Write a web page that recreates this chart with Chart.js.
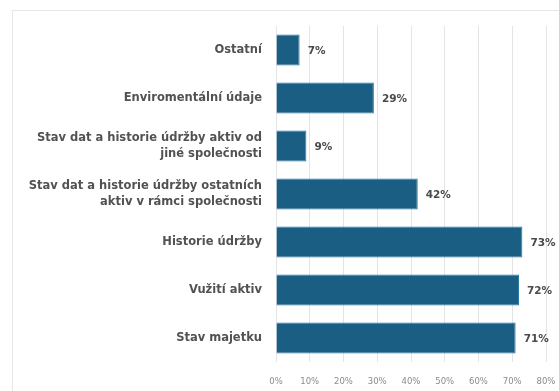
<!DOCTYPE html>
<html>
<head>
<meta charset="utf-8">
<script src="https://cdn.jsdelivr.net/npm/chart.js@4"></script>
<style>
    html, body { margin: 0; padding: 0; background: #fff; }
    #wrap { position: relative; width: 559px; height: 391px; }
    #frame {
        position: absolute; left: 12px; top: 10px; right: 0; bottom: 0;
        border-top: 1px solid #e6e6e6; border-left: 1px solid #e6e6e6;
    }
    canvas { position: absolute; left: 0; top: 0; }
</style>
</head>
<body>
<div id="wrap">
    <div id="frame"></div>
    <canvas id="assetDataChart" width="559" height="391"></canvas>
</div>
<script>
var categories = [
    'Ostatní',
    'Enviromentální údaje',
    ['Stav dat a historie údržby aktiv od', 'jiné společnosti'],
    ['Stav dat a historie údržby ostatních', 'aktiv v rámci společnosti'],
    'Historie údržby',
    'Vužití aktiv',
    'Stav majetku'
];
var shares = [7, 29, 9, 42, 73, 72, 71];
var axisTicks = [0, 10, 20, 30, 40, 50, 60, 70, 80];

var fontFamily = '"DejaVu Sans", Verdana, sans-serif';

// percentage written just past the end of every bar
var barValueLabels = {
    id: 'barValueLabels',
    afterDatasetsDraw: function(chart) {
        var ctx = chart.ctx;
        var meta = chart.getDatasetMeta(0);
        ctx.save();
        ctx.font = 'bold 10.5px ' + fontFamily;
        ctx.fillStyle = '#4a4a4a';
        ctx.textAlign = 'left';
        ctx.textBaseline = 'middle';
        meta.data.forEach(function(bar, i) {
            ctx.fillText(shares[i] + '%', bar.x + 8, bar.y + 1);
        });
        ctx.restore();
    }
};

var ctx = document.getElementById('assetDataChart').getContext('2d');
new Chart(ctx, {
    type: 'bar',
    data: {
        labels: categories,
        datasets: [{
            data: shares,
            backgroundColor: '#1b5e84',
            borderColor: '#2a7aa3',
            borderWidth: 1,
            categoryPercentage: 1,
            barPercentage: 0.65
        }]
    },
    options: {
        indexAxis: 'y',
        responsive: false,
        animation: false,
        layout: { padding: { left: 0, right: 13, top: 26, bottom: 0 } },
        plugins: {
            legend: { display: false },
            tooltip: { enabled: false }
        },
        scales: {
            x: {
                min: 0,
                max: 80,
                afterBuildTicks: function(scale) {
                    scale.ticks = axisTicks.map(function(v) { return { value: v }; });
                },
                afterFit: function(scale) {
                    scale.height = 29;
                    // let the end labels hang past the plot edge
                    scale.paddingLeft = 0;
                    scale.paddingRight = 0;
                },
                grid: { color: '#e4e4e4', drawTicks: false },
                border: { display: false },
                ticks: {
                    padding: 15,
                    color: '#8c8c8c',
                    font: { size: 8.5, family: fontFamily }
                },
                // plain percent labels under the grid lines
                afterTickToLabelConversion: function(scale) {
                    scale.ticks.forEach(function(t) { t.label = t.value + '%'; });
                }
            },
            y: {
                afterFit: function(scale) { scale.width = 276; },
                grid: { display: false },
                border: { display: false },
                ticks: {
                    padding: 6,
                    color: '#525252',
                    font: { size: 11.5, weight: 'bold', family: fontFamily, lineHeight: 1.45 }
                }
            }
        }
    },
    plugins: [barValueLabels]
});
</script>
</body>
</html>
